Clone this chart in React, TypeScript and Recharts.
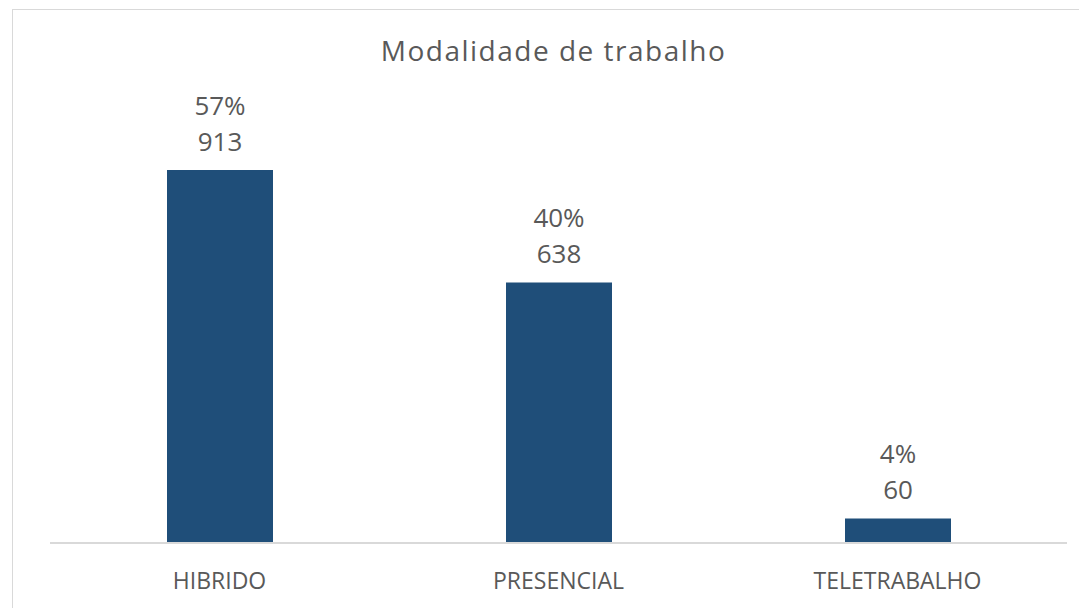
import * as React from "react";
import { Bar, BarChart, LabelList, XAxis, YAxis } from "recharts";

const categories = ["HIBRIDO", "PRESENCIAL", "TELETRABALHO"];
const counts = [913, 638, 60];
const percents = ["57%", "40%", "4%"];

const BAR_COLOR = "#1F4E79";
const TEXT_COLOR = "#595959";
const LINE_COLOR = "#D9D9D9";
const FONT = "'Open Sans', sans-serif";

const data = categories.map((name, i) => ({
  name,
  count: counts[i],
  pct: percents[i],
}));

function TwoLineLabel(props: any) {
  const { x, y, width, index } = props;
  const cx = Number(x) + Number(width) / 2;
  return (
    <g>
      <text
        x={cx}
        y={Number(y) - 55}
        textAnchor="middle"
        fill={TEXT_COLOR}
        fontSize={26}
        fontFamily={FONT}
      >
        {percents[index]}
      </text>
      <text
        x={cx}
        y={Number(y) - 19}
        textAnchor="middle"
        fill={TEXT_COLOR}
        fontSize={26}
        fontFamily={FONT}
      >
        {counts[index]}
      </text>
    </g>
  );
}

function CategoryTick(props: any) {
  const { x, y, payload } = props;
  return (
    <text
      x={x}
      y={y + 46}
      textAnchor="middle"
      fill={TEXT_COLOR}
      fontSize={23}
      fontFamily={FONT}
    >
      {payload.value}
    </text>
  );
}

export default function App() {
  return (
    <div
      style={{
        position: "absolute",
        left: 0,
        top: 0,
        width: 1079,
        height: 608,
        overflow: "hidden",
        background: "#fff",
      }}
    >
      <div
        style={{
          position: "absolute",
          left: 12,
          top: 9,
          width: 1100,
          height: 640,
          border: `1px solid ${LINE_COLOR}`,
        }}
      />
      <div
        style={{
          position: "absolute",
          left: 0,
          top: 30,
          width: 1107,
          textAlign: "center",
          fontFamily: FONT,
          fontSize: 28,
          letterSpacing: 1.5,
          color: TEXT_COLOR,
          lineHeight: "40px",
        }}
      >
        Modalidade de trabalho
      </div>
      <div style={{ position: "absolute", left: 0, top: 0 }}>
        <BarChart
          width={1079}
          height={608}
          data={data}
          margin={{ top: 134.5, right: 12, bottom: 0, left: 50 }}
        >
          <XAxis
            dataKey="name"
            height={65}
            tickLine={false}
            tickSize={0}
            tickMargin={0}
            axisLine={{ stroke: LINE_COLOR, strokeWidth: 2 }}
            tick={<CategoryTick />}
            interval={0}
          />
          <YAxis hide domain={[0, 1000]} />
          <Bar
            dataKey="count"
            fill={BAR_COLOR}
            barSize={106}
            isAnimationActive={false}
          >
            <LabelList dataKey="count" content={<TwoLineLabel />} />
          </Bar>
        </BarChart>
      </div>
    </div>
  );
}
